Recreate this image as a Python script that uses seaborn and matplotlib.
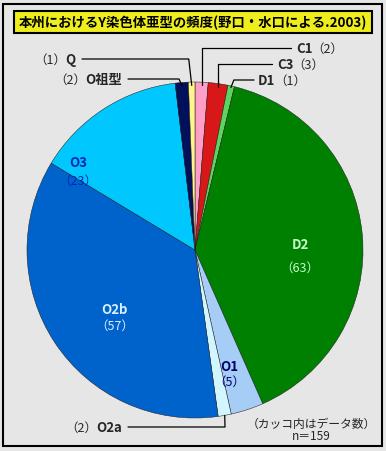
import numpy as np
import matplotlib
matplotlib.use("Agg")
import matplotlib.pyplot as plt
import seaborn as sns
from matplotlib.patches import Rectangle
from matplotlib.lines import Line2D

# ---- data ----
categories = ["C1", "C3", "D1", "D2", "O1", "O2a", "O2b", "O3", "O祖型", "Q"]
counts = [2, 3, 1, 63, 5, 2, 57, 23, 2, 1]
slice_colors = ["#ff9fc8", "#d81818", "#5fd35f", "#008000", "#a6cdf5",
                "#d2f6ff", "#0063cc", "#00c8ff", "#00105a", "#fff58c"]
title_text = "本州におけるY染色体亜型の頻度(野口・水口による.2003)"
note_text = "（カッコ内はデータ数）"
n_text = "n＝159"

sns.set_style("white")
plt.rcParams["font.family"] = ["Noto Sans CJK JP", "DejaVu Sans"]

W, H = 386, 452
fig = plt.figure(figsize=(W / 100, H / 100), dpi=100)
fig.patch.set_facecolor("#e6e6e6")
renderer = fig.canvas.get_renderer()

def fx(px):
    return px / W

def fy(py):
    return 1 - py / H

FS = 9.5
FSN = 9

# outer frame
fig.add_artist(Rectangle((fx(3), fy(447)), fx(379), 442 / H, transform=fig.transFigure,
                         fill=False, edgecolor="black", linewidth=1.5))
# title box
fig.add_artist(Rectangle((fx(14), fy(34)), fx(358), 22 / H, transform=fig.transFigure,
                         facecolor="#eeee1e", edgecolor="black", linewidth=1.5))
fig.text(fx(193), fy(23), title_text, ha="center", va="center", fontsize=9.6,
         fontweight="bold", color="black")

# pie axes
cx, cy, R = 195, 251, 168
ax = fig.add_axes([fx(cx - R), fy(cy + R), 2 * R / W, 2 * R / H])
pal = sns.color_palette(slice_colors)
wedges, _ = ax.pie(counts, colors=pal, startangle=90, counterclock=False,
                   wedgeprops=dict(edgecolor="#1a1a1a", linewidth=0.35))
ax.set_xlim(-1, 1)
ax.set_ylim(-1, 1)
ax.axis("off")

def edge_point(i, r=1.0):
    w = wedges[i]
    ang = np.deg2rad((w.theta1 + w.theta2) / 2)
    x, y = r * np.cos(ang), r * np.sin(ang)
    return cx + x * R, cy - y * R

# inside labels
inside = {
    "D2": ((300, 245), (300, 268), "#c8ffc8"),
    "O2b": ((115, 310), (115, 326), "#d8f0ff"),
    "O3": ((78, 163), (78, 181), "#0028b4"),
    "O1": ((229, 367), (229, 382), "#00006e"),
}
for name, (p1, p2, col) in inside.items():
    i = categories.index(name)
    fig.text(fx(p1[0]), fy(p1[1]), name, ha="center", va="center", fontsize=FS,
             fontweight="bold", color=col)
    fig.text(fx(p2[0]), fy(p2[1]), f"（{counts[i]}）", ha="center", va="center",
             fontsize=FSN, color=col)

def leader(points):
    xs = [fx(p[0]) for p in points]
    ys = [fy(p[1]) for p in points]
    fig.add_artist(Line2D(xs, ys, transform=fig.transFigure, color="black", linewidth=0.9))

def name_then_count(name, lx, ly):
    """name (bold) starting at lx, count right after it."""
    i = categories.index(name)
    t = fig.text(fx(lx), fy(ly), name, ha="left", va="center", fontsize=FS,
                 fontweight="bold")
    bb = t.get_window_extent(renderer)
    fig.text((bb.x1 - 1) / W, fy(ly), f"（{counts[i]}）", ha="left", va="center",
             fontsize=FSN)

def count_then_name(name, rx, ly):
    """name (bold) ending at rx, count right before it."""
    i = categories.index(name)
    t = fig.text(fx(rx), fy(ly), name, ha="right", va="center", fontsize=FS,
                 fontweight="bold")
    bb = t.get_window_extent(renderer)
    fig.text((bb.x0 + 1) / W, fy(ly), f"（{counts[i]}）", ha="right", va="center",
             fontsize=FSN)

# right-side labels
for name, ly, lx in [("C1", 49, 296), ("C3", 65, 277)]:
    i = categories.index(name)
    ex, ey = edge_point(i, 0.98)
    leader([(ex, ey), (ex, ly), (lx - 5, ly)])
    name_then_count(name, lx, ly)

i = categories.index("D1")
ex, ey = edge_point(i, 0.99)
leader([(ex, ey), (ex + 3, 81), (254, 81)])
name_then_count("D1", 258, 81)

# left-side labels
for name, ly, rx in [("Q", 60, 76), ("O祖型", 80, 122)]:
    i = categories.index(name)
    ex, ey = edge_point(i, 0.98)
    leader([(rx + 6, ly), (ex - 3, ly), (ex, ey)])
    count_then_name(name, rx, ly)

i = categories.index("O2a")
ex, ey = edge_point(i, 1.0)
leader([(128, 428), (225, 428), (ex, ey)])
count_then_name("O2a", 122, 428)

fig.text(fx(311), fy(424), note_text, ha="center", va="center", fontsize=8.5)
fig.text(fx(311), fy(437), n_text, ha="center", va="center", fontsize=8.5)

fig.savefig("out.png", dpi=100, facecolor=fig.get_facecolor())
